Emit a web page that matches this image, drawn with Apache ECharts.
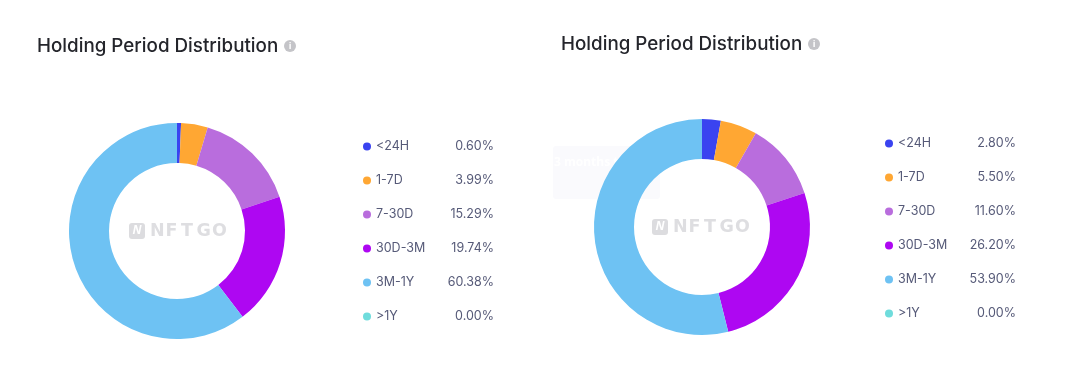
<!DOCTYPE html>
<html>
<head>
<meta charset="utf-8">
<style>
  html, body { margin: 0; padding: 0; background: #fff; }
  #chart { width: 1080px; height: 370px; }
</style>
</head>
<body>
<div id="chart"></div>
<script src="https://cdn.jsdelivr.net/npm/echarts@6/dist/echarts.min.js"></script>
<script>
const titleText = "Holding Period Distribution";
const categories = ["<24H", "1-7D", "7-30D", "30D-3M", "3M-1Y", ">1Y"];
const leftValues = [0.6, 3.99, 15.29, 19.74, 60.38, 0];
const rightValues = [2.8, 5.5, 11.6, 26.2, 53.9, 0];
const colors = ["#3a43f0", "#ffa733", "#b96ddd", "#ae07f2", "#6ec2f3", "#6fdcdc"];

const textColor = "#565a78";
const font = "Inter";

function buildPie(values, center) {
  return {
    type: "pie",
    center: center,
    radius: [68, 108],
    startAngle: 90,
    silent: true,
    label: { show: false },
    labelLine: { show: false },
    data: categories.map((name, i) => ({ name: name, value: values[i] }))
  };
}

function buildLegend(values, left, top) {
  return {
    left: left,
    top: top,
    orient: "vertical",
    icon: "circle",
    itemWidth: 8,
    itemHeight: 8,
    itemGap: 21,
    selectedMode: false,
    data: categories,
    formatter: name => {
      const v = values[categories.indexOf(name)].toFixed(2) + "%";
      return "{n|" + name + "}{v|" + v + "}";
    },
    textStyle: {
      rich: {
        n: { width: 70, fontFamily: font, fontSize: 12.5, color: textColor, height: 16 },
        v: { width: 48, align: "right", fontFamily: font, fontSize: 12.5, color: textColor, height: 16 }
      }
    }
  };
}

function titleGroup(x, y) {
  return {
    type: "group",
    x: x,
    y: y,
    children: [
      {
        type: "text",
        style: { text: titleText, x: 0, y: 0, fill: "#24252b", font: "500 18.8px Inter", textVerticalAlign: "middle" }
      },
      { type: "circle", shape: { cx: 253, cy: 0, r: 6 }, style: { fill: "#c4c4c8" } },
      {
        type: "text",
        style: { text: "i", x: 253, y: 0, fill: "#fff", font: "bold 9px 'Open Sans'", textAlign: "center", textVerticalAlign: "middle" }
      }
    ]
  };
}

function watermark(x, y) {
  const letters = "NFTGO".split("").map((ch, i) => ({
    type: "text",
    style: { text: ch, x: 21 + i * 15.5, y: 0, fill: "#dedee1", font: "bold 17.5px 'DejaVu Sans'", textVerticalAlign: "middle" }
  }));
  return {
    type: "group",
    x: x,
    y: y,
    z: 10,
    children: [
      { type: "rect", shape: { x: 0, y: -8, width: 16, height: 16, r: 3 }, style: { fill: "#dcdcdf" } },
      {
        type: "text",
        style: { text: "N", x: 8, y: 0, fill: "#fff", font: "italic bold 12px 'Open Sans'", textAlign: "center", textVerticalAlign: "middle" }
      }
    ].concat(letters)
  };
}

// 右图后面残留的 tooltip 痕迹
const ghostTip = {
  type: "group",
  x: 553,
  y: 146,
  z: -1,
  children: [
    { type: "rect", shape: { x: 0, y: 0, width: 107, height: 53, r: 3 }, style: { fill: "#fafafd" } },
    {
      type: "text",
      style: { text: "3 months to 1 year", x: 1, y: 17, fill: "#ffffff", font: "bold 12px 'Open Sans'", textVerticalAlign: "middle" }
    }
  ]
};

const chart = echarts.init(document.getElementById("chart"), null, { renderer: "canvas" });
chart.setOption({
  animation: false,
  color: colors,
  legend: [buildLegend(leftValues, 358, 135), buildLegend(rightValues, 880, 132)],
  series: [buildPie(leftValues, [177, 231]), buildPie(rightValues, [702, 227])],
  graphic: [ghostTip, titleGroup(37, 46), titleGroup(561, 44), watermark(129, 231), watermark(652, 227)]
});
</script>
</body>
</html>
